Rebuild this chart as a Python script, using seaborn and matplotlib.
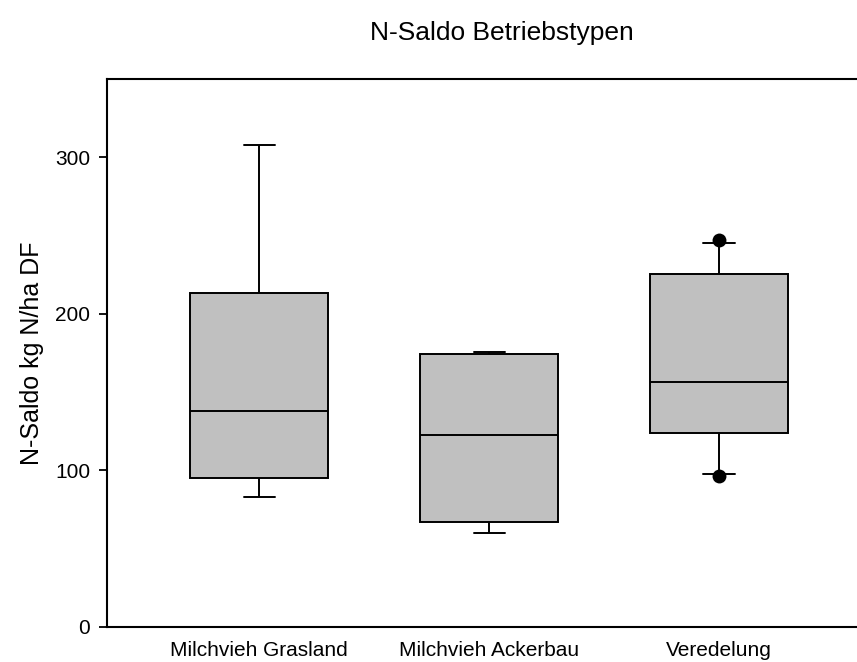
import matplotlib
matplotlib.use("Agg")
import matplotlib.pyplot as plt
import seaborn as sns
import pandas as pd

# Farm types on the x axis
categories = ["Milchvieh Grasland", "Milchvieh Ackerbau", "Veredelung"]

# Per farm type: lower whisker, Q1, median, Q3, upper whisker (kg N/ha DF)
grasland = [83.0, 95.1, 137.7, 213.0, 307.5]
ackerbau = [60.0, 66.6, 122.4, 174.5, 175.8]
veredelung = [97.5, 124.1, 156.4, 225.6, 245.1]

# Points lying beyond the whiskers
outlier_groups = ["Veredelung", "Veredelung"]
outlier_values = [96.2, 246.8]

y_ticks = [0, 100, 200, 300]

sns.set_theme(style="ticks")
plt.rcParams["font.family"] = ["Liberation Sans", "DejaVu Sans"]
plt.rcParams["text.color"] = "black"
plt.rcParams["axes.labelcolor"] = "black"

df = pd.DataFrame({
    "Betriebstyp": [categories[0]] * len(grasland)
    + [categories[1]] * len(ackerbau)
    + [categories[2]] * len(veredelung),
    "N": grasland + ackerbau + veredelung,
})

fig = plt.figure(figsize=(8.57, 6.62), dpi=100)
ax = fig.add_axes([0.1249, 0.0533, 0.8751, 0.8274])

sns.boxplot(
    data=df, x="Betriebstyp", y="N", order=categories,
    whis=(0, 100), width=0.6, color="#C0C0C0", saturation=1,
    linecolor="black", linewidth=1.4, capwidths=0.135, ax=ax,
)
sns.stripplot(
    x=outlier_groups, y=outlier_values, order=categories,
    jitter=False, color="black", size=10, ax=ax, zorder=5,
)

ax.set_xlim(-0.661, 2.6)
ax.set_ylim(0, 350)
ax.set_yticks(y_ticks)
ax.set_xlabel("")
ax.set_ylabel("N-Saldo kg N/ha DF", fontsize=18, labelpad=8, color="black")
ax.tick_params(axis="y", direction="out", length=6, width=1.3,
               labelsize=15, pad=6, color="black", labelcolor="black")
ax.tick_params(axis="x", length=0, labelsize=15, pad=10, labelcolor="black")

for side in ["left", "top", "bottom"]:
    ax.spines[side].set_linewidth(1.5)
    ax.spines[side].set_color("black")
ax.spines["right"].set_visible(False)

fig.suptitle("N-Saldo Betriebstypen", fontsize=19, x=0.586, y=0.968,
             color="black")

fig.savefig("out.png", dpi=100)
